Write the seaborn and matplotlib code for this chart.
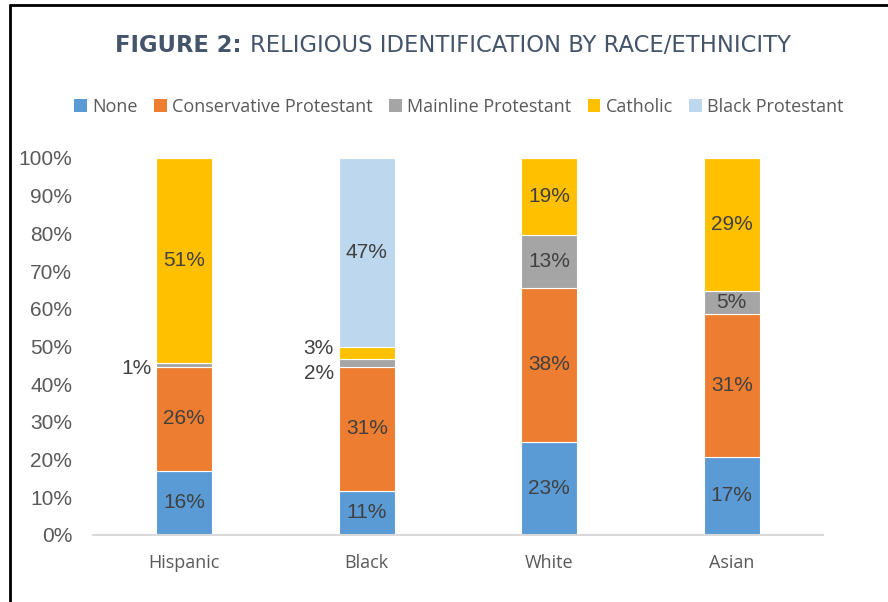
import matplotlib
matplotlib.use("Agg")
import matplotlib.pyplot as plt
from matplotlib.lines import Line2D
from matplotlib.patches import Patch
import numpy as np
import pandas as pd
import seaborn as sns

# Survey shares (percent) by race/ethnicity
groups = ["Hispanic", "Black", "White", "Asian"]
traditions = ["None", "Conservative Protestant", "Mainline Protestant",
              "Catholic", "Black Protestant"]
none_pct = [16, 11, 23, 17]
conservative_pct = [26, 31, 38, 31]
mainline_pct = [1, 2, 13, 5]
catholic_pct = [51, 3, 19, 29]
black_prot_pct = [0, 47, 0, 0]
y_ticks = [0, 10, 20, 30, 40, 50, 60, 70, 80, 90, 100]

palette = ["#5B9BD5", "#ED7D31", "#A5A5A5", "#FFC000", "#BDD7EE"]

values = np.array([none_pct, conservative_pct, mainline_pct,
                   catholic_pct, black_prot_pct], dtype=float)
shares = values / values.sum(axis=0)          # 100% stacked
bottoms = np.vstack([np.zeros(len(groups)), np.cumsum(shares, axis=0)[:-1]])

sns.set_theme(style="white")
plt.rcParams["font.family"] = ["Open Sans", "DejaVu Sans"]

W, H = 888, 602
fig = plt.figure(figsize=(W / 100, H / 100), dpi=100)
ax = fig.add_axes([93 / W, 67 / H, 730 / W, 377 / H])

for i, trad in enumerate(traditions):
    df = pd.DataFrame({"group": groups, "share": shares[i]})
    sns.barplot(data=df, x="group", y="share", order=groups,
                color=palette[i], saturation=1, width=0.307,
                bottom=bottoms[i], edgecolor="white", linewidth=0.8, ax=ax)

# Value labels; thin segments get their label beside the bar
label_color = "#404040"
label_font = ["Liberation Sans", "DejaVu Sans"]
side_shift = {(0, 2): -3, (1, 2): -8, (1, 3): 3}   # points, keyed (group, tradition)
for i in range(len(traditions)):
    for j in range(len(groups)):
        v = values[i, j]
        if v == 0:
            continue
        yc = bottoms[i, j] + shares[i, j] / 2
        if shares[i, j] < 0.04:
            ax.annotate(f"{int(v)}%", xy=(j - 0.18, yc),
                        xytext=(0, side_shift.get((j, i), 0)),
                        textcoords="offset points", ha="right", va="center",
                        fontsize=15, color=label_color, family=label_font)
        else:
            ax.text(j, yc, f"{int(v)}%", ha="center", va="center",
                    fontsize=15, color=label_color, family=label_font)

ax.set_xlim(-0.5, 3.5)
ax.set_ylim(0, 1)
ax.set_yticks([t / 100 for t in y_ticks])
ax.set_yticklabels([f"{t}%" for t in y_ticks], family=label_font,
                   fontsize=15, color="#595959")
ax.set_xticks(range(len(groups)))
ax.set_xticklabels(groups, fontsize=13, color="#595959")
ax.tick_params(axis="both", length=0)
ax.tick_params(axis="x", pad=14)
ax.tick_params(axis="y", pad=15)
ax.set_xlabel("")
ax.set_ylabel("")
for s in ["top", "right", "left"]:
    ax.spines[s].set_visible(False)
ax.spines["bottom"].set_color("#D9D9D9")
ax.spines["bottom"].set_linewidth(1.5)
ax.grid(False)

# Title: bold figure number followed by regular text, centred as one line
title_color = "#44546A"
title_font = ["DejaVu Sans"]
title_y = 1 - 45 / H
t1 = fig.text(0, title_y, "FIGURE 2: ", fontsize=16.3, fontweight="bold",
              color=title_color, va="center", ha="left", family=title_font)
t2 = fig.text(0, title_y, "RELIGIOUS IDENTIFICATION BY RACE/ETHNICITY",
              fontsize=16.3, color=title_color, va="center", ha="left",
              family=title_font)
fig.canvas.draw()
w1 = t1.get_window_extent().width
w2 = t2.get_window_extent().width
x0 = 453 - (w1 + w2) / 2
t1.set_x(x0 / W)
t2.set_x((x0 + w1) / W)

# Legend
handles = [Patch(facecolor=c, edgecolor="none") for c in palette]
leg = fig.legend(handles, traditions, loc="center", ncol=5,
                 bbox_to_anchor=(459 / W, 1 - 107 / H), frameon=False,
                 fontsize=13, handlelength=0.7, handleheight=0.7,
                 handletextpad=0.3, columnspacing=0.9, borderaxespad=0)
for t in leg.get_texts():
    t.set_color("#595959")

# Outer frame (top and left edges)
fig.add_artist(Line2D([10 / W, 1], [1 - 5 / H, 1 - 5 / H],
                      transform=fig.transFigure, color="black", lw=2))
fig.add_artist(Line2D([10 / W, 10 / W], [0, 1 - 5 / H],
                      transform=fig.transFigure, color="black", lw=2))

fig.savefig("out.png", dpi=100, facecolor="white")
